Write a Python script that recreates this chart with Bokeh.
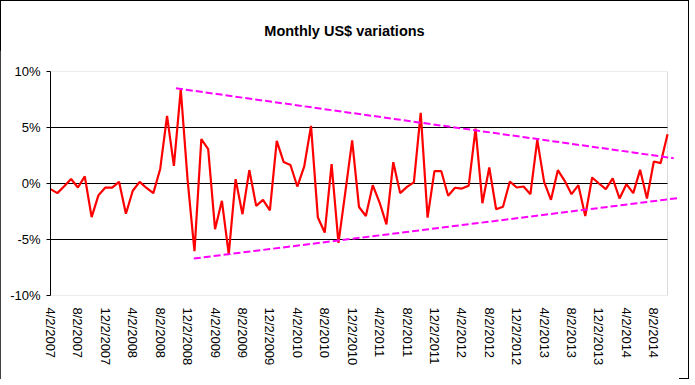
from bokeh.plotting import figure
from bokeh.models import Range1d, FixedTicker, BoxAnnotation, Div
from bokeh.layouts import column
from bokeh.embed import file_html
from bokeh.resources import INLINE

# Monthly US$ variation (%), 4/2007 .. 10/2014
values = [
    -0.5, -0.86, -0.25, 0.4, -0.36, 0.63, -3.0, -1.04, -0.36, -0.36,
    0.15, -2.7, -0.65, 0.15, -0.4, -0.86, 1.3, 6.04, 1.58, 8.4,
    0.3, -6.05, 3.96, 3.07, -4.08, -1.55, -6.3, 0.39, -2.74, 1.2,
    -2.0, -1.46, -2.4, 3.8, 1.93, 1.65, -0.27, 1.5, 5.15, -3.04,
    -4.38, 1.73, -5.3, -0.8, 3.85, -2.1, -2.9, -0.15, -1.7, -3.65,
    1.9, -0.86, -0.3, 0.1, 6.3, -3.05, 1.1, 1.1, -1.1, -0.38,
    -0.45, -0.2, 4.9, -1.76, 1.43, -2.3, -2.08, 0.18, -0.36, -0.27,
    -0.95, 3.9, 0.15, -1.46, 1.19, 0.24, -0.95, -0.15, -2.9, 0.54,
    0.0, -0.5, 0.45, -1.34, -0.06, -0.86, 1.22, -1.34, 1.96, 1.82,
    4.4,
]
tick_labels = [
    "4/2/2007", "8/2/2007", "12/2/2007", "4/2/2008", "8/2/2008", "12/2/2008",
    "4/2/2009", "8/2/2009", "12/2/2009", "4/2/2010", "8/2/2010", "12/2/2010",
    "4/2/2011", "8/2/2011", "12/2/2011", "4/2/2012", "8/2/2012", "12/2/2012",
    "4/2/2013", "8/2/2013", "12/2/2013", "4/2/2014", "8/2/2014",
]
tick_step = 4
y_ticks = [-10, -5, 0, 5, 10]
y_tick_labels = ["-10%", "-5%", "0%", "5%", "10%"]
grid_levels = [-5, 0, 5]
title_text = "Monthly US$ variations"

# hand-drawn trend channel (month index, %)
upper_trend_x = [18.3, 90.9]
upper_trend_y = [8.5, 2.26]
lower_trend_x = [20.9, 91.45]
lower_trend_y = [-6.7, -1.31]

months = list(range(len(values)))
tick_pos = months[::tick_step][:len(tick_labels)]
FONT = "Liberation Sans"

W = 679
TITLE_H = 40

title = Div(text=title_text, width=W, height=TITLE_H,
            styles={"font-family": FONT, "font-size": "14.5px",
                    "font-weight": "bold", "text-align": "center",
                    "line-height": "52px", "color": "black",
                    "width": f"{W}px"})

p = figure(width=W, height=329, output_backend="svg", toolbar_location=None,
           title=None,
           x_range=Range1d(0, 91.6), y_range=Range1d(y_ticks[0], y_ticks[-1]),
           min_border_left=50, min_border_right=1, min_border_top=21,
           min_border_bottom=84)
p.outline_line_color = None
p.background_fill_color = "white"
p.border_fill_color = "white"

p.xgrid.visible = False
p.ygrid.visible = False

p.segment(x0=months[0], x1=months[-1], y0=grid_levels, y1=grid_levels,
          line_color="black", line_width=1)

p.add_layout(BoxAnnotation(left=months[0], right=months[-1], bottom=y_ticks[0],
                           top=y_ticks[-1], fill_alpha=0, line_color="#808080",
                           line_width=1, level="underlay"))

p.line(months, values, line_color="#FF0000", line_width=2.2)
p.line(upper_trend_x, upper_trend_y, line_color="#FF00FF", line_width=2,
       line_dash="7 3")
p.line(lower_trend_x, lower_trend_y, line_color="#FF00FF", line_width=2,
       line_dash="7 3")

xa = p.xaxis[0]
xa.ticker = FixedTicker(ticks=tick_pos, minor_ticks=[])
xa.major_label_overrides = {t: l for t, l in zip(tick_pos, tick_labels)}
xa.major_label_orientation = "vertical"
xa.axis_line_color = None
xa.major_tick_line_color = None
xa.minor_tick_line_color = None
xa.major_label_standoff = 6
xa.major_label_text_font = FONT
xa.major_label_text_font_size = "13px"
xa.major_label_text_color = "black"

ya = p.yaxis[0]
ya.ticker = FixedTicker(ticks=y_ticks, minor_ticks=[])
ya.major_label_overrides = {t: l for t, l in zip(y_ticks, y_tick_labels)}
ya.axis_line_color = "black"
ya.major_tick_line_color = "black"
ya.major_tick_out = 4
ya.major_tick_in = 0
ya.minor_tick_line_color = None
ya.major_label_standoff = 6
ya.major_label_text_font = FONT
ya.major_label_text_font_size = "13px"
ya.major_label_text_color = "black"

layout = column(title, p, spacing=0,
                styles={"outline": "1px solid black", "outline-offset": "-1px",
                        "background-color": "white"})

open("out.html", "w").write(file_html(layout, INLINE))
